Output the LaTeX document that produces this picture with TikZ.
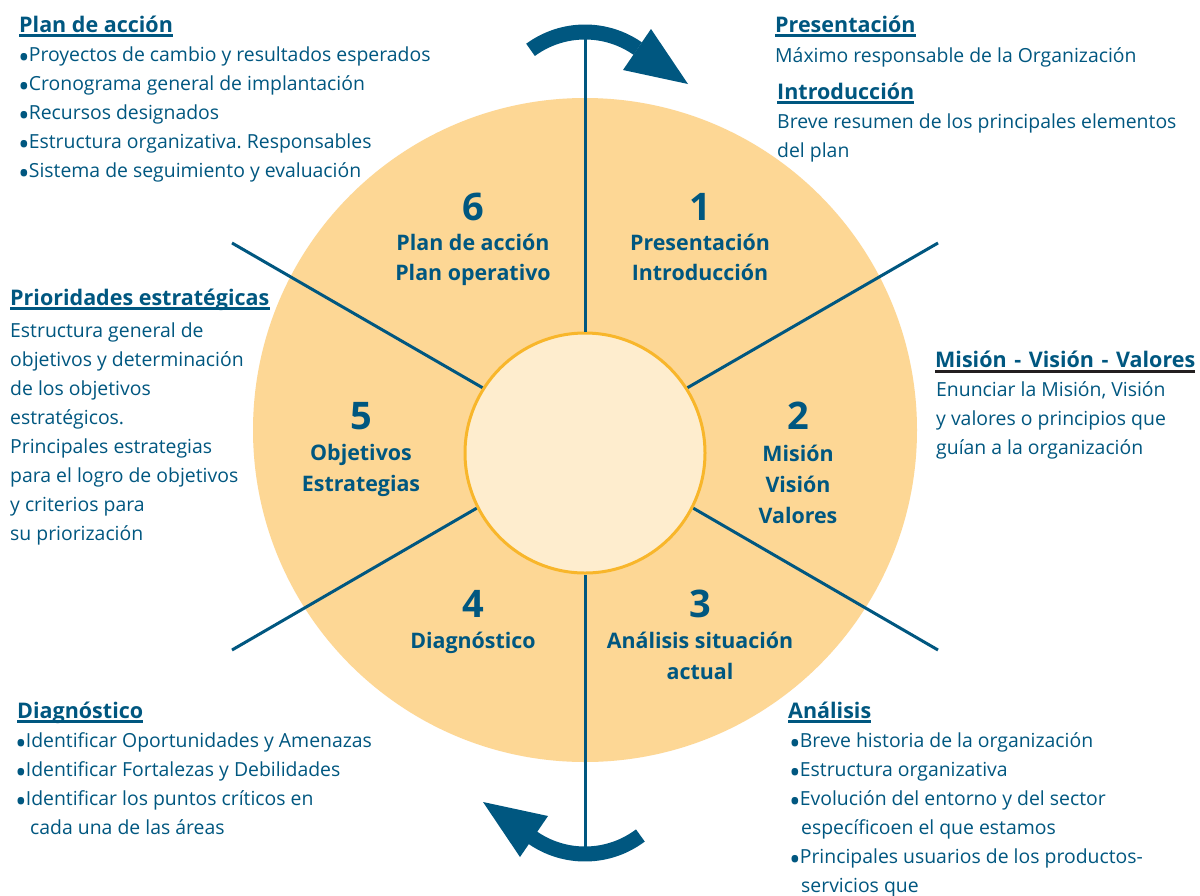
\documentclass[tikz,border=0pt]{standalone}
\usepackage{fontspec}
\setmainfont{Open Sans}
\definecolor{dblue}{HTML}{005780}
\definecolor{ofill}{HTML}{FDD795}
\definecolor{ifill}{HTML}{FEEDCE}
\definecolor{iring}{HTML}{F8B62B}
\definecolor{ulblack}{HTML}{231F20}
\newcommand{\bul}{\raisebox{-7.5pt}{\fontsize{31}{31}\selectfont •}\hspace{-1pt}}
\frenchspacing
\begin{document}
\begin{tikzpicture}[x=1pt,y=-1pt,
 body/.style={anchor=base west, inner sep=0pt, text=dblue, font=\fontsize{19.4}{23}\selectfont},
 head/.style={anchor=base west, inner sep=0pt, text=dblue, font=\fontsize{21.5}{24}\selectfont\bfseries},
 lab/.style={anchor=base, inner sep=0pt, text=dblue, font=\fontsize{21.4}{24}\selectfont\bfseries},
 num/.style={anchor=base, inner sep=0pt, text=dblue, font=\fontsize{38}{40}\selectfont\bfseries},
 spoke/.style={draw=dblue, line width=3pt},
 ul/.style={draw=dblue, line width=3pt},
 band/.style={draw=dblue, line width=15pt},
]
\useasboundingbox[fill=white] (0,0) rectangle (1200,895);

% outer disc
\fill[ofill] (585,430) circle[radius=332];

% spokes
\coordinate (s1o) at (232,243); \coordinate (s1i) at (483,388);
\coordinate (s2o) at (232,650); \coordinate (s2i) at (477,508);
\coordinate (s3o) at (938,243); \coordinate (s3i) at (687,388);
\coordinate (s4o) at (938,650); \coordinate (s4i) at (693,508);
\draw[spoke] (s1o) -- (s1i);
\draw[spoke] (s2o) -- (s2i);
\draw[spoke] (s3o) -- (s3i);
\draw[spoke] (s4o) -- (s4i);

% hub
\node[circle, draw=iring, fill=ifill, line width=3pt, minimum size=240pt, inner sep=0pt] (hub) at (585,453) {};

% vertical axis
\coordinate (vtop) at (585,39);
\coordinate (vbot) at (585,847);
\draw[spoke] (vtop) -- (hub.north);
\draw[spoke] (hub.south) -- (vbot);

% curved arrows
\draw[band] (585,124) ++(-126.3:92) arc[start angle=-126.3, end angle=-55, radius=92];
\fill[dblue] (651,29) -- (623,70) -- (688,84) -- cycle;
\draw[band] (585,762) ++(53:92) arc[start angle=53, end angle=125, radius=92];
\fill[dblue] (548,816) -- (520,857) -- (483,802) -- cycle;

% circle labels
\node[num] (n6) at (473,220) {6};
\node[lab] (l6a) at (473,250) {Plan de acción};
\node[lab] (l6b) at (473,280) {Plan operativo};
\node[num] (n1) at (700,220) {1};
\node[lab] (l1a) at (700,250) {Presentación};
\node[lab] (l1b) at (700,280) {Introducción};
\node[num] (n5) at (361,429) {5};
\node[lab] (l5a) at (361,460) {Objetivos};
\node[lab] (l5b) at (361,491) {Estrategias};
\node[num] (n2) at (798,429) {2};
\node[lab] (l2a) at (798,461) {Misión};
\node[lab] (l2b) at (798,492) {Visión};
\node[lab] (l2c) at (798,523) {Valores};
\node[num] (n4) at (473,617) {4};
\node[lab] (l4a) at (473,648) {Diagnóstico};
\node[num] (n3) at (700,617) {3};
\node[lab] (l3a) at (700,648) {Análisis situación};
\node[lab] (l3b) at (700,679) {actual};

% Plan de acción
\node[head] (h6) at (19,32) {Plan de acción};
\draw[ul] ([yshift=-3.5pt]h6.base west) -- ([yshift=-3.5pt]h6.base east);
\foreach \t [count=\i] in {Proyectos de cambio y resultados esperados,Cronograma general de implantación,Recursos designados,Estructura organizativa. Responsables,Sistema de seguimiento y evaluación}
  \node[body] (p6\i) at (18,{32+29*\i}) {\bul\t};

% Presentación / Introducción
\node[head] (h1a) at (775,32) {Presentación};
\draw[ul] ([yshift=-3.5pt]h1a.base west) -- ([yshift=-3.5pt]h1a.base east);
\node[body] (p1a) at (775,62) {Máximo responsable de la Organización};
\node[head] (h1b) at (777,99) {Introducción};
\draw[ul] ([yshift=-3.5pt]h1b.base west) -- ([yshift=-3.5pt]h1b.base east);
\node[body] (p1b) at (777,128) {Breve resumen de los principales elementos};
\node[body] (p1c) at (777,157) {del plan};

% Prioridades estratégicas
\node[head] (h5) at (10,305) {Prioridades estratégicas};
\draw[ul] ([yshift=-3.5pt]h5.base west) -- ([yshift=-3.5pt]h5.base east);
\foreach \t [count=\i] in {Estructura general de,objetivos y determinación,de los objetivos,estratégicos.,Principales estrategias,para el logro de objetivos,y criterios para,su priorización}
  \node[body] (p5\i) at (10,{308+29*\i}) {\t};

% Misión - Visión - Valores
\node[head] (h2) at (935,367) {Misión\hspace{2pt} -\hspace{2pt} Visión\hspace{2pt} -\hspace{2pt} Valores};
\draw[line width=3pt, draw=ulblack] ([yshift=-4pt]h2.base west) -- ([yshift=-4pt]h2.base east);
\node[body] (p2a) at (936,396) {Enunciar la Misión, Visión};
\node[body] (p2b) at (936,425) {y valores o principios que};
\node[body] (p2c) at (936,454) {guían a la organización};

% Diagnóstico
\node[head] (h4) at (17,718) {Diagnóstico};
\draw[ul] ([yshift=-3.5pt]h4.base west) -- ([yshift=-3.5pt]h4.base east);
\node[body] (p4a) at (15,747) {\bul Identificar Oportunidades y Amenazas};
\node[body] (p4b) at (15,776) {\bul Identificar Fortalezas y Debilidades};
\node[body] (p4c) at (15,805) {\bul Identificar los puntos críticos en};
\node[body] (p4d) at (30,834) {cada una de las áreas};

% Análisis
\node[head] (h3) at (788,718) {Análisis};
\draw[ul] ([yshift=-3.5pt]h3.base west) -- ([yshift=-3.5pt]h3.base east);
\node[body] (p3a) at (789,747) {\bul Breve historia de la organización};
\node[body] (p3b) at (789,776) {\bul Estructura organizativa};
\node[body] (p3c) at (789,805) {\bul Evolución del entorno y del sector};
\node[body] (p3d) at (801,834) {específicoen el que estamos};
\node[body] (p3e) at (789,863) {\bul Principales usuarios de los productos-};
\node[body] (p3f) at (801,892) {servicios que};
\end{tikzpicture}
\end{document}
